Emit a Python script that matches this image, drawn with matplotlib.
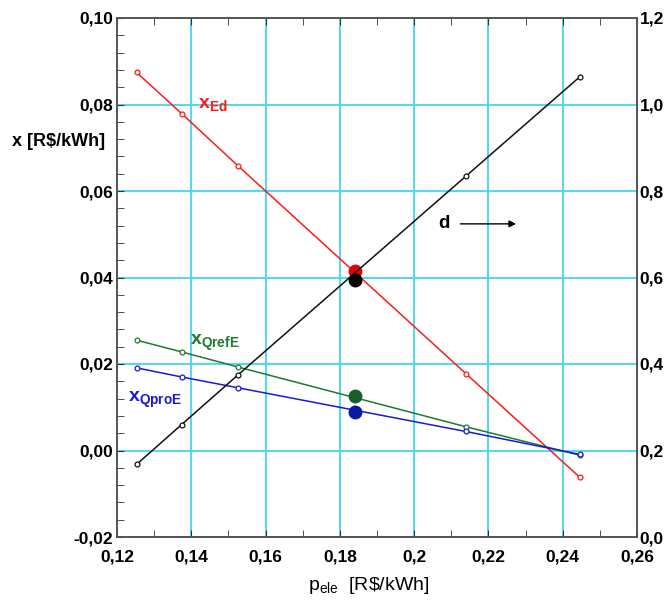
import matplotlib
matplotlib.use("Agg")
import matplotlib.pyplot as plt
from matplotlib.ticker import MultipleLocator, FuncFormatter

plt.rcParams['font.family'] = ['Liberation Sans', 'DejaVu Sans']
plt.rcParams['mathtext.fontset'] = 'custom'
plt.rcParams['mathtext.rm'] = 'Liberation Sans'
plt.rcParams['mathtext.bf'] = 'Liberation Sans:bold'
plt.rcParams['mathtext.it'] = 'Liberation Sans'

p_ele = [0.1253, 0.1374, 0.1526, 0.2139, 0.2446]
x_Ed = [0.0874, 0.0779, 0.0658, 0.0178, -0.0062]
x_QrefE = [0.0255, 0.0228, 0.0193, 0.0055, -0.0011]
x_QproE = [0.0191, 0.0170, 0.0145, 0.0044, -0.0009]
d_vals = [0.168, 0.260, 0.375, 0.834, 1.064]

p_sel = 0.1841
x_Ed_sel = 0.0414
x_QrefE_sel = 0.0126
x_QproE_sel = 0.0090
d_sel = 0.595

grid_c = '#3fd8ea'

fig = plt.figure(figsize=(6.67, 6.0), dpi=100)
ax = fig.add_axes([0.1754, 0.105, 0.7796, 0.865])
ax2 = ax.twinx()

ax.set_xlim(0.12, 0.26)
ax.set_ylim(-0.02, 0.10)
ax2.set_ylim(0.0, 1.2)

ax.xaxis.set_major_locator(MultipleLocator(0.02))
ax.xaxis.set_minor_locator(MultipleLocator(0.01))
ax.yaxis.set_major_locator(MultipleLocator(0.02))
ax.yaxis.set_minor_locator(MultipleLocator(0.004))
ax2.yaxis.set_major_locator(MultipleLocator(0.2))

ax.grid(True, which='major', color=grid_c, linewidth=1.3, zorder=0)
ax.set_axisbelow(True)

def fmt_x(v, pos):
    if abs(v - 0.2) < 1e-9:
        return "0,2"
    return f"{v:.2f}".replace('.', ',')

ax.xaxis.set_major_formatter(FuncFormatter(fmt_x))
ax.yaxis.set_major_formatter(FuncFormatter(lambda v, p: f"{v:.2f}".replace('.', ',').replace('-0,00', '0,00')))
ax2.yaxis.set_major_formatter(FuncFormatter(lambda v, p: f"{v:.1f}".replace('.', ',')))

for a in (ax, ax2):
    for s in a.spines.values():
        s.set_color('#555555')
        s.set_linewidth(1.2)

ax.tick_params(axis='both', which='both', direction='in', top=True, right=False,
               labelsize=12.5, color='#333333')
ax.tick_params(axis='both', which='major', length=5)
ax.tick_params(axis='both', which='minor', length=5)
ax.tick_params(axis='x', which='major', pad=9)
ax.tick_params(axis='y', which='major', pad=3)
ax2.tick_params(axis='y', direction='in', length=0, labelsize=12.5, pad=2)
for lab in ax.get_xticklabels() + ax.get_yticklabels() + ax2.get_yticklabels():
    lab.set_fontweight('bold')

mk = dict(marker='o', markersize=3.5, markerfacecolor='white', markeredgewidth=0.9)
ax.plot(p_ele, x_Ed, color='#ff1a1a', linewidth=1.1, zorder=3, **mk)
ax.plot(p_ele, x_QrefE, color='#1e7a2e', linewidth=1.1, zorder=3, **mk)
ax.plot(p_ele, x_QproE, color='#1a1ad6', linewidth=1.1, zorder=3, **mk)
ax2.plot(p_ele, d_vals, color='#111111', linewidth=1.1, zorder=3, **mk)

ax.plot([p_sel], [x_Ed_sel], 'o', color='#e00000', markersize=9, zorder=4)
ax.plot([p_sel], [x_QrefE_sel], 'o', color='#1a5e2a', markersize=9, zorder=4)
ax.plot([p_sel], [x_QproE_sel], 'o', color='#0a1aa0', markersize=9, zorder=4)
ax2.plot([p_sel], [d_sel], 'o', color='#000000', markersize=9, zorder=4)

ax.text(0.1418, 0.0793, r'$\mathbf{x_{Ed}}$', color='#ff1a1a', fontsize=14, zorder=5)
ax.text(0.1397, 0.0244, r'$\mathbf{x_{QrefE}}$', color='#1e7a2e', fontsize=14, zorder=5)
ax.text(0.1230, 0.0113, r'$\mathbf{x_{QproE}}$', color='#1a1ad6', fontsize=14, zorder=5)
ax.text(0.2066, 0.0515, 'd', color='black', fontsize=13.5, fontweight='bold', zorder=5)
ax.annotate('', xy=(0.2282, 0.0524), xytext=(0.2117, 0.0524),
            arrowprops=dict(arrowstyle='-|>', color='black', lw=1.0, mutation_scale=10), zorder=5)

fig.text(0.018, 0.765, 'x [R$/kWh]', fontsize=13, fontweight='bold', va='center', ha='left')
fig.text(0.553, 0.025, r'$\mathrm{p_{ele}}$  [R\$/kWh]', fontsize=14, va='center', ha='center')

fig.savefig('out.png', dpi=100, facecolor='white')
